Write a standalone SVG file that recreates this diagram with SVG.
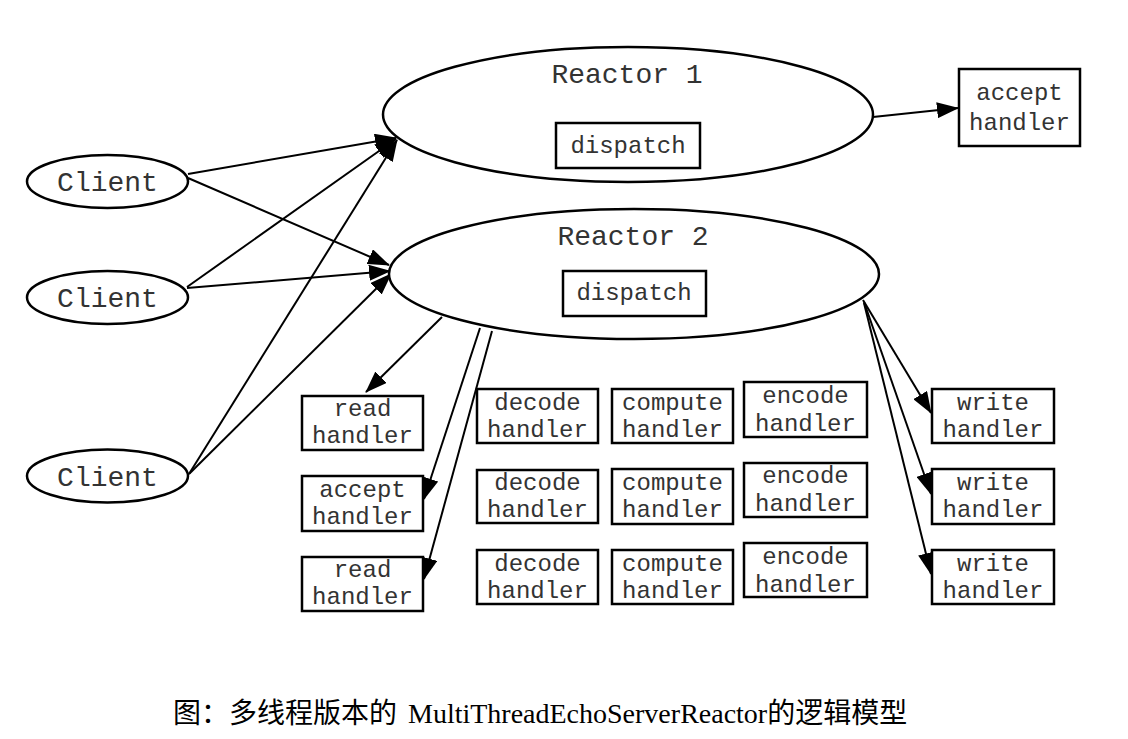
<svg xmlns="http://www.w3.org/2000/svg" width="1128" height="739" viewBox="0 0 1128 739">
<style>
.el{fill:#fff;stroke:#000;stroke-width:2.5}
.bx{fill:#fff;stroke:#000;stroke-width:2.5}
.big{font-family:"Liberation Mono","Courier New",monospace;font-size:28px;fill:#333;text-anchor:middle}
.sm{font-family:"Liberation Mono","Courier New",monospace;font-size:24px;fill:#333;text-anchor:middle}
.cap{font-family:"Liberation Serif","Noto Sans CJK SC",serif;font-size:28px;fill:#000}
.ed line{stroke:#000;stroke-width:2;marker-end:url(#ah)}
</style>
<defs>
<marker id="ah" markerUnits="userSpaceOnUse" markerWidth="22" markerHeight="16" viewBox="0 0 22 16" refX="21" refY="8" orient="auto">
<path d="M0,0 L22,8 L0,16 z" fill="#000"/>
</marker>
</defs>
<rect width="1128" height="739" fill="#fff"/>
<g class="ed" id="connectors">
<line x1="188" y1="174" x2="396" y2="138"/>
<line x1="188" y1="178" x2="389" y2="265"/>
<line x1="187" y1="287" x2="396" y2="139"/>
<line x1="187" y1="288" x2="390" y2="271"/>
<line x1="189" y1="474" x2="397" y2="140"/>
<line x1="189" y1="474" x2="391" y2="274"/>
<line x1="873" y1="117" x2="958" y2="108"/>
<line x1="442" y1="317" x2="366" y2="392"/>
<line x1="480" y1="328" x2="424" y2="499"/>
<line x1="492" y1="331" x2="424" y2="579"/>
<line x1="863" y1="300" x2="931" y2="413"/>
<line x1="864" y1="302" x2="931" y2="494"/>
<line x1="864" y1="303" x2="931" y2="574"/>
</g>
<g id="reactor1">
<ellipse class="el" cx="628" cy="114.5" rx="245" ry="67.5"/>
<text class="big" x="627" y="83">Reactor 1</text>
<rect class="bx" x="556" y="123" width="144" height="45"/>
<text class="sm" x="628" y="153">dispatch</text>
</g>
<g id="reactor2">
<ellipse class="el" cx="634" cy="274" rx="245" ry="65"/>
<text class="big" x="633" y="245">Reactor 2</text>
<rect class="bx" x="563" y="271" width="143" height="45"/>
<text class="sm" x="634" y="300">dispatch</text>
</g>
<g id="client1">
<ellipse class="el" cx="107.5" cy="181.5" rx="80.5" ry="26.5"/>
<text class="big" x="107.5" y="191">Client</text>
</g>
<g id="client2">
<ellipse class="el" cx="107.5" cy="297.5" rx="80.5" ry="26.5"/>
<text class="big" x="107.5" y="307">Client</text>
</g>
<g id="client3">
<ellipse class="el" cx="107.5" cy="476" rx="80.5" ry="26.5"/>
<text class="big" x="107.5" y="485.5">Client</text>
</g>
<g id="accept1">
<rect class="bx" x="959" y="69" width="121" height="77"/>
<text class="sm" x="1019.5" y="100">accept</text>
<text class="sm" x="1019.5" y="130">handler</text>
</g>
<g id="read1">
<rect class="bx" x="302" y="396" width="121" height="54"/>
<text class="sm" x="362.5" y="416">read</text>
<text class="sm" x="362.5" y="443">handler</text>
</g>
<g id="accept2">
<rect class="bx" x="302" y="476" width="121" height="55"/>
<text class="sm" x="362.5" y="497">accept</text>
<text class="sm" x="362.5" y="524">handler</text>
</g>
<g id="read2">
<rect class="bx" x="302" y="557" width="121" height="54"/>
<text class="sm" x="362.5" y="577">read</text>
<text class="sm" x="362.5" y="604">handler</text>
</g>
<g id="decode1">
<rect class="bx" x="477" y="389" width="121" height="54"/>
<text class="sm" x="537.5" y="410">decode</text>
<text class="sm" x="537.5" y="437">handler</text>
</g>
<g id="decode2">
<rect class="bx" x="477" y="470" width="121" height="53"/>
<text class="sm" x="537.5" y="490">decode</text>
<text class="sm" x="537.5" y="517">handler</text>
</g>
<g id="decode3">
<rect class="bx" x="477" y="550" width="121" height="54"/>
<text class="sm" x="537.5" y="571">decode</text>
<text class="sm" x="537.5" y="598">handler</text>
</g>
<g id="compute1">
<rect class="bx" x="612" y="389" width="121" height="54"/>
<text class="sm" x="672.5" y="410">compute</text>
<text class="sm" x="672.5" y="437">handler</text>
</g>
<g id="compute2">
<rect class="bx" x="612" y="469" width="121" height="55"/>
<text class="sm" x="672.5" y="490">compute</text>
<text class="sm" x="672.5" y="517">handler</text>
</g>
<g id="compute3">
<rect class="bx" x="612" y="550" width="121" height="54"/>
<text class="sm" x="672.5" y="571">compute</text>
<text class="sm" x="672.5" y="598">handler</text>
</g>
<g id="encode1">
<rect class="bx" x="744" y="382" width="123" height="55"/>
<text class="sm" x="805.5" y="403">encode</text>
<text class="sm" x="805.5" y="431">handler</text>
</g>
<g id="encode2">
<rect class="bx" x="744" y="463" width="123" height="54"/>
<text class="sm" x="805.5" y="483">encode</text>
<text class="sm" x="805.5" y="511">handler</text>
</g>
<g id="encode3">
<rect class="bx" x="744" y="543" width="123" height="54"/>
<text class="sm" x="805.5" y="564">encode</text>
<text class="sm" x="805.5" y="592">handler</text>
</g>
<g id="write1">
<rect class="bx" x="932" y="389" width="122" height="54"/>
<text class="sm" x="993" y="410">write</text>
<text class="sm" x="993" y="437">handler</text>
</g>
<g id="write2">
<rect class="bx" x="932" y="469" width="122" height="55"/>
<text class="sm" x="993" y="490">write</text>
<text class="sm" x="993" y="517">handler</text>
</g>
<g id="write3">
<rect class="bx" x="932" y="550" width="122" height="54"/>
<text class="sm" x="993" y="571">write</text>
<text class="sm" x="993" y="598">handler</text>
</g>
<text class="cap" x="173" y="723">图：多线程版本的<tspan x="408">MultiThreadEchoServerReactor</tspan>的逻辑模型</text>
</svg>
